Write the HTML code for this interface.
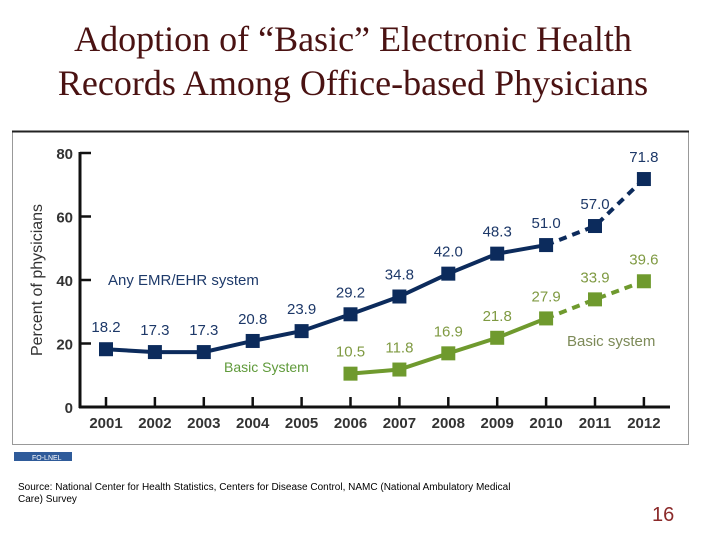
<!DOCTYPE html>
<html><head><meta charset="utf-8"><style>
body{margin:0;background:#fff;}
#wrap{position:relative;width:720px;height:540px;overflow:hidden;font-family:"Liberation Sans",sans-serif;}
.title{position:absolute;left:0;width:706px;text-align:center;font-family:"Liberation Serif",serif;font-size:36px;color:#4a1212;line-height:44px;top:17px;white-space:nowrap;}
</style></head><body>
<div id="wrap">
<div class="title">Adoption of “Basic” Electronic Health<br>Records Among Office-based Physicians</div>
<svg id="chart" width="720" height="540" style="position:absolute;left:0;top:0"></svg>
<div style="position:absolute;left:18px;top:482px;width:600px;font-size:10px;line-height:12px;color:#000;white-space:nowrap">Source: National Center for Health Statistics, Centers for Disease Control, NAMC (National Ambulatory Medical<br>Care) Survey</div>
<div style="position:absolute;left:652px;top:504px;font-size:20px;color:#8b2a2a">16</div>
</div>
<script>
const years=["2001","2002","2003","2004","2005","2006","2007","2008","2009","2010","2011","2012"];
const anyEhr=[18.2,17.3,17.3,20.8,23.9,29.2,34.8,42.0,48.3,51.0,57.0,71.8];
const basic=[null,null,null,null,null,10.5,11.8,16.9,21.8,27.9,33.9,39.6];
const yTicks=[0,20,40,60,80];
const solidUntil=9;
const NS="http://www.w3.org/2000/svg";
const svg=document.getElementById('chart');
const x=i=>106+i*48.9;
const y=v=>407-v*(254/80);
function mk(t,a,p){const e=document.createElementNS(NS,t);for(const k in a)e.setAttribute(k,a[k]);(p||svg).appendChild(e);return e;}
let e;
e=mk('rect',{x:12.5,y:131.5,width:676,height:313,fill:'none',stroke:'#999'});


e=mk('line',{x1:12,y1:131.5,x2:689,y2:131.5,stroke:'#222','stroke-width':2});


e=mk('line',{x1:80,y1:y(80)-1,x2:80,y2:408,stroke:'#111','stroke-width':3});


e=mk('line',{x1:79,y1:407,x2:670,y2:407,stroke:'#111','stroke-width':3});


yTicks.forEach(v=>{
 e=mk('line',{x1:80,y1:y(v),x2:91,y2:y(v),stroke:'#111','stroke-width':2.5});
 
 
 e=mk('text',{x:73,y:y(v)+6,'text-anchor':'end','font-size':15,'font-weight':'bold',fill:'#333'});
 e.textContent=v;
 
 
});
years.forEach((yr,i)=>{
 e=mk('line',{x1:x(i),y1:397,x2:x(i),y2:407,stroke:'#111','stroke-width':2.5});
 
 
 e=mk('text',{x:x(i),y:428,'text-anchor':'middle','font-size':15,'font-weight':'bold',fill:'#333'});
 e.textContent=yr;
 
 
});
e=mk('text',{x:42,y:280,'text-anchor':'middle','font-size':16,fill:'#333',transform:'rotate(-90 42 280)'});
e.textContent='Percent of physicians';


function series(vals,col,lab,name){
 const pts=vals.map((v,i)=>v==null?null:[x(i),y(v)]);
 let solid=[],dash=[];
 pts.forEach((p,i)=>{if(!p)return;if(i<=solidUntil)solid.push(p);if(i>=solidUntil)dash.push(p);});
 e=mk('polyline',{points:solid.map(p=>p.join(',')).join(' '),fill:'none',stroke:col,'stroke-width':4});
 
 
 e=mk('polyline',{points:dash.map(p=>p.join(',')).join(' '),fill:'none',stroke:col,'stroke-width':4,'stroke-dasharray':'8 6'});
 
 
 vals.forEach((v,i)=>{if(v==null)return;
  e=mk('rect',{x:x(i)-7,y:y(v)-7,width:14,height:14,fill:col});
  
  
  e=mk('text',{x:x(i),y:y(v)-17,'text-anchor':'middle','font-size':15,fill:lab});
  e.textContent=v.toFixed(1);
  
  
 });
}
series(anyEhr,'#0c2b5c','#1d3868','any-ehr');
series(basic,'#6f9a2e','#7f9a42','basic');
e=mk('text',{x:108,y:285,'font-size':15,fill:'#1e3a6a'});
e.textContent='Any EMR/EHR system';


e=mk('text',{x:567,y:346,'font-size':15,fill:'#7d8a58'});
e.textContent='Basic system';


e=mk('text',{x:224,y:372,'font-size':14,fill:'#5f9a3a'});
e.textContent='Basic System';


e=mk('rect',{x:14,y:452,width:58,height:9,fill:'#2f5b9a'});


e=mk('text',{x:32,y:460,'font-size':7,fill:'#fff'});
e.textContent='FO-LNEL';


</script>
</body></html>
